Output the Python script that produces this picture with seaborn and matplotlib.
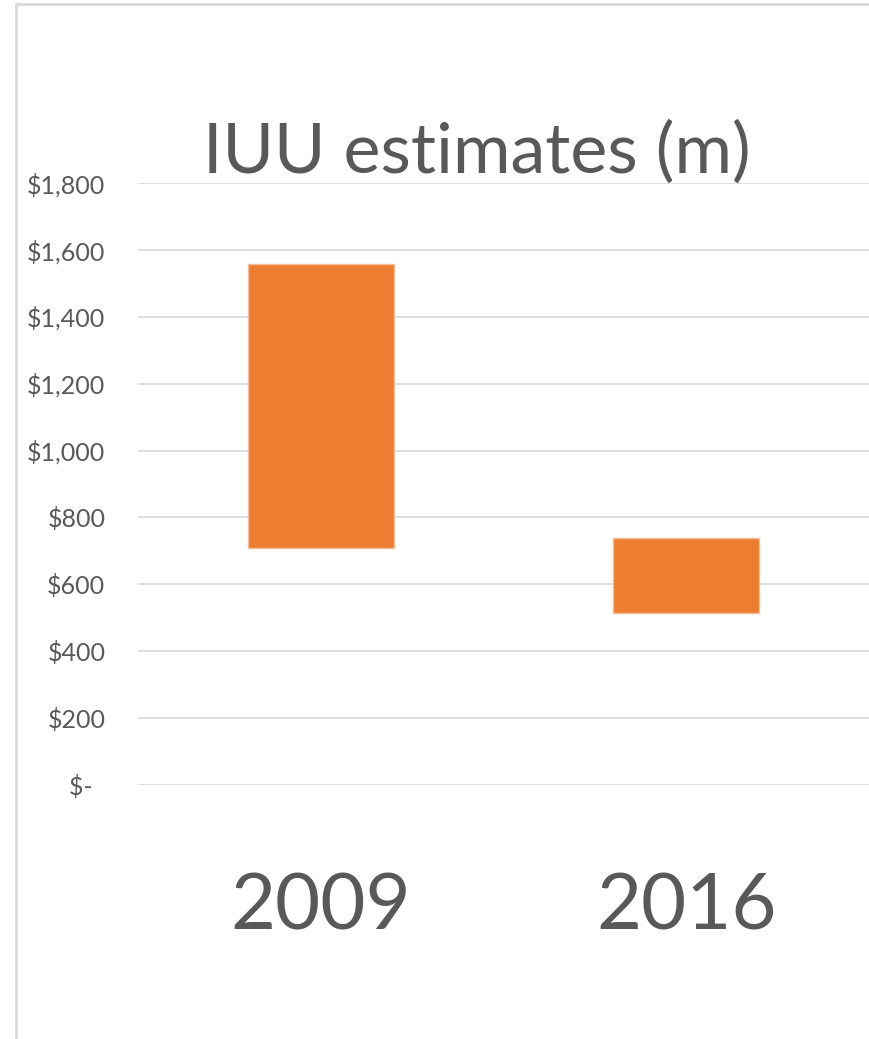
import matplotlib
matplotlib.use("Agg")
import matplotlib.pyplot as plt
import seaborn as sns
import pandas as pd
from matplotlib.lines import Line2D

# ---- data ----
years = ["2009", "2016"]
low = [708, 515]
high = [1557, 740]
yticks = [0, 200, 400, 600, 800, 1000, 1200, 1400, 1600, 1800]
ytick_labels = ["$-  ", "$200", "$400", "$600", "$800", "$1,000", "$1,200",
                "$1,400", "$1,600", "$1,800"]
title = "IUU estimates (m)"

sns.set_theme(style="white")
plt.rcParams['font.family'] = ['Lato', 'DejaVu Sans']

df = pd.DataFrame({"year": years, "low": low, "high": high})
df["span"] = df["high"] - df["low"]

W, H = 869, 1039
fig = plt.figure(figsize=(W / 100, H / 100), dpi=100)
fig.patch.set_facecolor("white")
ax = fig.add_axes([138 / W, 1 - 785 / H, 1 - 138 / W, (785 - 183) / H])

sns.barplot(data=df, x="year", y="span", bottom=df["low"].values,
            color="#ED7D31", saturation=1, width=0.4, errorbar=None,
            edgecolor="#F6BE98", linewidth=1, ax=ax, zorder=3)

ax.set_ylim(0, 1800)
ax.set_xlim(-0.5, 1.5)
ax.set_yticks(yticks)
ax.set_yticklabels(ytick_labels)
ax.set_xlabel("")
ax.set_ylabel("")
for s in ax.spines.values():
    s.set_visible(False)
ax.yaxis.grid(True, color="#d9d9d9", linewidth=1.2)
ax.xaxis.grid(False)
ax.set_axisbelow(True)
ax.tick_params(axis="y", length=0, pad=23.5, labelsize=18, labelcolor="#595959")
ax.tick_params(axis="x", length=0, pad=63, labelsize=56, labelcolor="#595959")

fig.text(477 / W, 1 - 173 / H, title, ha="center", va="baseline",
         fontsize=50.5, color="#595959")

# chart-area border (cropped Excel frame: top and left edges visible)
fig.add_artist(Line2D([15.5 / W, 15.5 / W], [0, 1 - 4 / H], color="#d9d9d9",
                      linewidth=2, transform=fig.transFigure))
fig.add_artist(Line2D([15.5 / W, 1], [1 - 4 / H, 1 - 4 / H], color="#d9d9d9",
                      linewidth=2, transform=fig.transFigure))

fig.savefig("out.png", dpi=100, facecolor="white")
